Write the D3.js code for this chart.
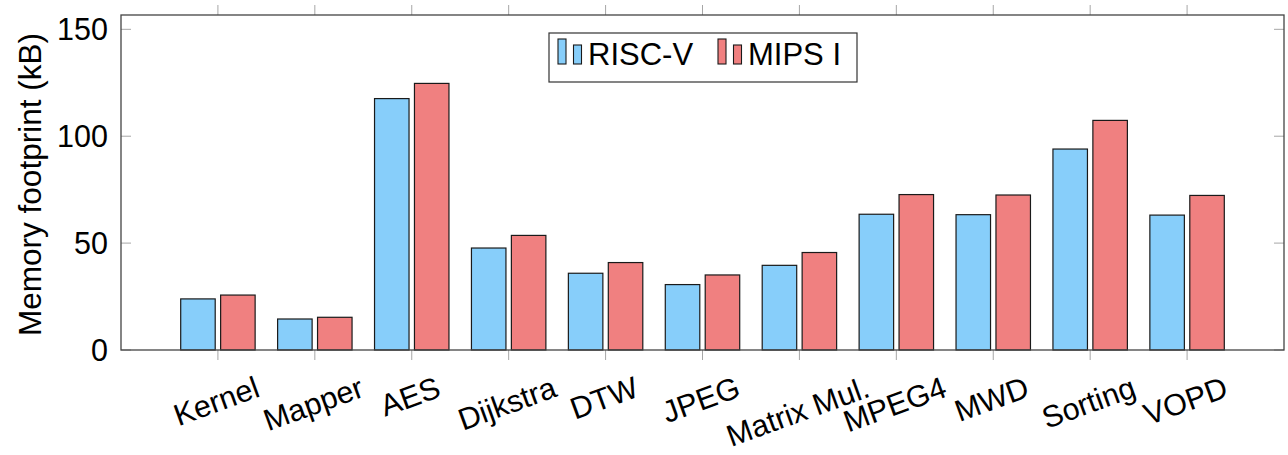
<!DOCTYPE html>
<html>
<head>
<meta charset="utf-8">
<script src="https://cdn.jsdelivr.net/npm/d3@7"></script>
<style>
  html, body { margin: 0; padding: 0; background: #fff; }
  svg { display: block; }
  text { font-family: "Liberation Sans", Arial, Helvetica, sans-serif; fill: #000; }
</style>
</head>
<body>
<svg id="chart" width="1288" height="455"></svg>
<script>
// Benchmarks and memory footprint (kB) per instruction set
const categories = ["Kernel", "Mapper", "AES", "Dijkstra", "DTW", "JPEG", "Matrix Mul.", "MPEG4", "MWD", "Sorting", "VOPD"];
const riscvValues = [23.9, 14.5, 117.6, 47.7, 35.9, 30.6, 39.6, 63.5, 63.3, 94.0, 63.1];
const mipsValues  = [25.7, 15.3, 124.7, 53.6, 40.9, 35.1, 45.6, 72.7, 72.5, 107.4, 72.3];
const seriesNames = ["RISC-V", "MIPS I"];
const seriesColors = ["#87cefa", "#f08080"];
const yTicks = [0, 50, 100, 150];

const svg = d3.select("#chart");
const plot = { left: 121, right: 1284, top: 15, bottom: 350 };

// x: one unit per benchmark, with one unit of padding on each side
const x = d3.scaleLinear().domain([-1, categories.length]).range([plot.left, plot.right]);
const y = d3.scaleLinear().domain([0, 156.7]).range([plot.bottom, plot.top]);

const barWidth = 0.356;   // in category units
const barShift = 0.206;   // offset of each bar centre from the category centre

const series = [riscvValues, mipsValues];

// bars
series.forEach((vals, s) => {
  const off = s === 0 ? -barShift : barShift;
  svg.append("g").selectAll("rect")
    .data(vals)
    .join("rect")
    .attr("x", (d, i) => x(i + off - barWidth / 2))
    .attr("width", (d, i) => x(i + off + barWidth / 2) - x(i + off - barWidth / 2))
    .attr("y", d => y(d))
    .attr("height", d => y(0) - y(d))
    .attr("fill", seriesColors[s])
    .attr("stroke", "#1a1a1a")
    .attr("stroke-width", 1.2);
});

// x ticks (outside, top and bottom)
const ticks = svg.append("g").attr("stroke", "#a6a6a6").attr("stroke-width", 1);
categories.forEach((c, i) => {
  ticks.append("line").attr("x1", x(i)).attr("x2", x(i)).attr("y1", plot.bottom).attr("y2", plot.bottom + 10);
  ticks.append("line").attr("x1", x(i)).attr("x2", x(i)).attr("y1", plot.top).attr("y2", plot.top - 10);
});
// y ticks (inside, left and right)
yTicks.forEach(v => {
  ticks.append("line").attr("x1", plot.left).attr("x2", plot.left + 10).attr("y1", y(v)).attr("y2", y(v));
  ticks.append("line").attr("x1", plot.right).attr("x2", plot.right - 10).attr("y1", y(v)).attr("y2", y(v));
});

// frame
svg.append("rect")
  .attr("x", plot.left).attr("y", plot.top)
  .attr("width", plot.right - plot.left).attr("height", plot.bottom - plot.top)
  .attr("fill", "none").attr("stroke", "#444").attr("stroke-width", 1.3);

// y tick labels
svg.append("g").selectAll("text")
  .data(yTicks)
  .join("text")
  .attr("x", plot.left - 13)
  .attr("y", d => y(d))
  .attr("dy", "0.36em")
  .attr("text-anchor", "end")
  .attr("font-size", 30.5)
  .text(d => d);

// y axis title
svg.append("text")
  .attr("transform", `translate(41, ${(plot.top + plot.bottom) / 2 + 2}) rotate(-90)`)
  .attr("text-anchor", "middle")
  .attr("font-size", 31.5)
  .text("Memory footprint (kB)");

// x tick labels, rotated; wider labels sit lower so their upper corner clears the axis
const angle = 20;
const rad = angle * Math.PI / 180;
const xl = svg.append("g");
categories.forEach((c, i) => {
  const t = xl.append("text")
    .attr("font-size", 30.5)
    .attr("text-anchor", "middle")
    .text(c);
  const w = t.node().getComputedTextLength();
  const cy = 396 + (w / 2) * Math.sin(rad);
  t.attr("transform", `translate(${x(i) + 2}, ${cy}) rotate(${-angle})`);
});

// legend
const legend = svg.append("g");
legend.append("rect")
  .attr("x", 549).attr("y", 33).attr("width", 308).attr("height", 49)
  .attr("fill", "#fff").attr("stroke", "#333").attr("stroke-width", 1.2);
const legendX = [558, 718];
seriesNames.forEach((name, s) => {
  const lx = legendX[s];
  legend.append("rect").attr("x", lx).attr("y", 39).attr("width", 8).attr("height", 25)
    .attr("fill", seriesColors[s]).attr("stroke", "#1a1a1a").attr("stroke-width", 1.1);
  legend.append("rect").attr("x", lx + 15.5).attr("y", 45).attr("width", 8).attr("height", 19)
    .attr("fill", seriesColors[s]).attr("stroke", "#1a1a1a").attr("stroke-width", 1.1);
  legend.append("text").attr("x", lx + 30).attr("y", 65).attr("font-size", 31).text(name);
});
</script>
</body>
</html>
